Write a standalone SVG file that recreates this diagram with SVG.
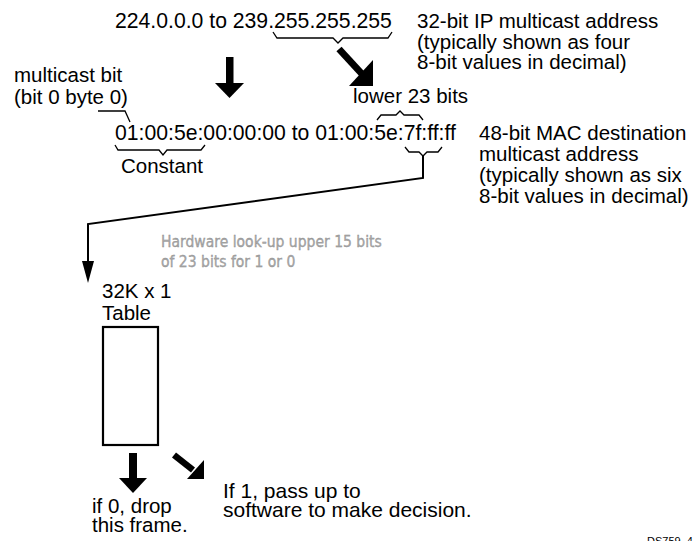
<svg xmlns="http://www.w3.org/2000/svg" width="697" height="541" viewBox="0 0 697 541">
  <style>
    text { font-family: "Liberation Sans", Arial, Helvetica, sans-serif; fill: #000; }
    .t { font-size: 20.5px; }
    .addr { font-size: 21.2px; }
    .wide { font-size: 21px; }
    .note { font-family: "Liberation Sans Narrow", "DejaVu Sans Condensed", sans-serif; font-size: 15.5px; fill: #a8a8a8; stroke: #8a8a8a; stroke-width: 0.3; }
    .ref { font-size: 11px; }
    .brace { fill: none; stroke: #000; stroke-width: 1.3; stroke-linejoin: miter; }
    .wire { fill: none; stroke: #000; stroke-width: 2; }
    .fat { fill: #000; stroke: none; }
    .box { fill: #fff; stroke: #000; stroke-width: 2.2; }
  </style>

  <!-- IP multicast address range -->
  <g id="ip-address">
    <text class="addr" x="115" y="28">224.0.0.0 to 239.255.255.255</text>
    <path class="brace" d="M273,32 L277,38 L333,38 L338,43 L343,38 L388,38 L392,32"/>
  </g>

  <g id="ip-label">
    <text class="t" x="417" y="28">32-bit IP multicast address</text>
    <text class="t" x="417" y="49">(typically shown as four</text>
    <text class="t" x="417" y="69">8-bit values in decimal)</text>
  </g>

  <g id="multicast-bit">
    <text class="t" x="14" y="82">multicast bit</text>
    <text class="t" x="14" y="104">(bit 0 byte 0)</text>
    <path class="brace" d="M98,111 L125,111 L130,122"/>
  </g>

  <g id="lower-bits">
    <text class="t" x="353" y="103">lower 23 bits</text>
    <path class="brace" d="M377,120 L381,115 L396,115 L400,111 L404,115 L419,115 L423,120"/>
  </g>

  <!-- MAC address range -->
  <g id="mac-address">
    <text class="addr" x="115" y="140">01:00:5e:00:00:00 to 01:00:5e:7f:ff:ff</text>
    <path class="brace" d="M115,145 L118,150 L159,150 L163,155 L167,150 L201,150 L205,145"/>
    <text class="t" x="121" y="173">Constant</text>
    <path class="brace" d="M405,147 L409,152 L419,152 L423,156 L427,152 L438,152 L442,147"/>
  </g>

  <g id="mac-label">
    <text class="t" x="479" y="140">48-bit MAC destination</text>
    <text class="t" x="479" y="161">multicast address</text>
    <text class="t" x="479" y="182">(typically shown as six</text>
    <text class="t" x="479" y="203">8-bit values in decimal)</text>
  </g>

  <g id="lookup-note">
    <text class="note" x="161" y="247">Hardware look-up upper 15 bits</text>
    <text class="note" x="161" y="267">of 23 bits for 1 or 0</text>
  </g>

  <!-- lookup table -->
  <g id="table">
    <text class="t" x="102" y="298">32K x 1</text>
    <text class="t" x="102" y="320">Table</text>
    <rect class="box" x="103" y="327" width="55" height="118"/>
  </g>

  <g id="drop">
    <text class="t" x="92" y="513">if 0, drop</text>
    <text class="t" x="92" y="532">this frame.</text>
  </g>

  <g id="pass">
    <text class="wide" x="223" y="498">If 1, pass up to</text>
    <text class="wide" x="223" y="517">software to make decision.</text>
  </g>

  <text class="ref" x="647" y="545">DS759_4</text>

  <!-- connectors -->
  <g id="connectors">
    <!-- IP to MAC -->
    <rect class="fat" x="226" y="57" width="7.5" height="28"/>
    <path class="fat" d="M215,83 L244,83 L229.5,98 Z"/>
    <!-- lower 23 bits mapping -->
    <line x1="339" y1="49" x2="362" y2="74" stroke="#000" stroke-width="7"/>
    <path class="fat" d="M373,60 L373,86 L349,86 Z"/>
    <!-- MAC bits into table -->
    <path class="wire" d="M423,156 L423,178 L88,224 L88,263"/>
    <path class="fat" d="M82,261 L94,261 L88,283 Z"/>
    <!-- table outcomes -->
    <rect class="fat" x="129" y="453" width="8" height="26"/>
    <path class="fat" d="M119,478 L147,478 L133,493 Z"/>
    <line x1="174" y1="455" x2="193" y2="470" stroke="#000" stroke-width="6.5"/>
    <path class="fat" d="M204,460 L204,479 L187,479 Z"/>
  </g>
</svg>
